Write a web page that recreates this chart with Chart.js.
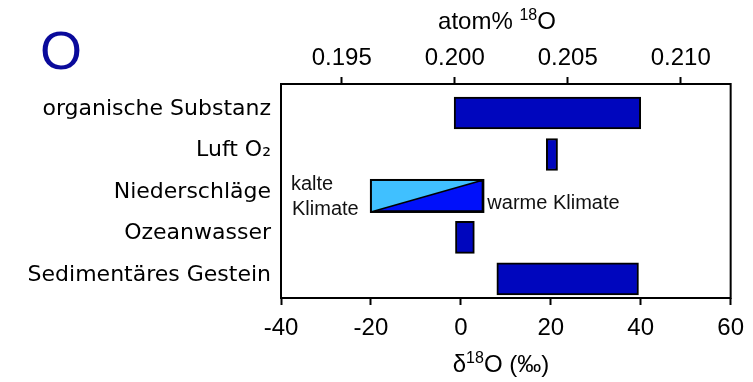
<!DOCTYPE html>
<html>
<head>
<meta charset="utf-8">
<script src="https://cdn.jsdelivr.net/npm/chart.js@4/dist/chart.umd.min.js"></script>
<style>
  html, body { margin: 0; padding: 0; background: #fff; }
  #isoChart { display: block; }
</style>
</head>
<body>
<canvas id="isoChart" width="753" height="382"></canvas>
<script>
// δ18O ranges (‰ VSMOW) of oxygen reservoirs
const categories = ['organische Substanz', 'Luft O\u2082', 'Niederschläge', 'Ozeanwasser', 'Sedimentäres Gestein'];
const rangeLow = [-1.5, 19, -20, -1.2, 8];
const rangeHigh = [40, 21.5, 5, 3, 39.5];

// bottom δ axis ticks and top atom% axis ticks
const deltaTicks = [-40, -20, 0, 20, 40, 60];
const atomTicks = [0.195, 0.200, 0.205, 0.210];
// atom% 18O at the two ends of the δ axis
const atomRange = [0.19231, 0.21221];

const precipIndex = categories.indexOf('Niederschläge');
const barBlue = '#0006BE';
const warmBlue = '#0010FA';
const coldBlue = '#40C0FF';

const sans = 'Liberation Sans, Arial, sans-serif';
const tickFont = { family: sans, size: 24 };
const labelFont = { family: 'DejaVu Sans, Verdana, sans-serif', size: 22 };

// text with a raised "18" in the middle, centred on cx
function isoText(ctx, cx, baseline, before, after, size) {
  const sup = '18';
  ctx.font = size + 'px ' + sans;
  const w1 = ctx.measureText(before).width;
  const w3 = ctx.measureText(after).width;
  ctx.font = Math.round(size * 0.65) + 'px ' + sans;
  const w2 = ctx.measureText(sup).width;
  let x = cx - (w1 + w2 + w3) / 2;
  ctx.textAlign = 'left';
  ctx.font = size + 'px ' + sans;
  ctx.fillText(before, x, baseline);
  x += w1;
  ctx.font = Math.round(size * 0.65) + 'px ' + sans;
  ctx.fillText(sup, x, baseline - size * 0.38);
  x += w2;
  ctx.font = size + 'px ' + sans;
  ctx.fillText(after, x, baseline);
}

// frame, axis titles, big element symbol and the cold/warm split of the precipitation bar
const decorations = {
  id: 'decorations',
  afterDatasetsDraw(chart) {
    const { ctx, chartArea } = chart;
    const bar = chart.getDatasetMeta(0).data[precipIndex];
    const p = bar.getProps(['x', 'y', 'base', 'height'], true);
    const left = Math.min(p.x, p.base), right = Math.max(p.x, p.base);
    const top = p.y - p.height / 2, bottom = p.y + p.height / 2;

    ctx.save();
    ctx.fillStyle = coldBlue;
    ctx.beginPath();
    ctx.moveTo(left, top);
    ctx.lineTo(right, top);
    ctx.lineTo(left, bottom);
    ctx.closePath();
    ctx.fill();
    ctx.strokeStyle = '#000';
    ctx.lineWidth = 1.5;
    ctx.beginPath();
    ctx.moveTo(left, bottom);
    ctx.lineTo(right, top);
    ctx.stroke();
    ctx.lineWidth = 2;
    ctx.strokeRect(left, top, right - left, bottom - top);

    ctx.fillStyle = '#111';
    ctx.font = '20px ' + sans;
    ctx.textAlign = 'left';
    ctx.textBaseline = 'alphabetic';
    ctx.fillText('kalte', chartArea.left + 10, top + 10);
    ctx.fillText('Klimate', chartArea.left + 11, bottom + 3);
    ctx.fillText('warme Klimate', right + 4, bottom - 3);

    ctx.lineWidth = 2;
    ctx.strokeRect(chartArea.left, chartArea.top, chartArea.right - chartArea.left, chartArea.bottom - chartArea.top);

    ctx.fillStyle = '#000';
    isoText(ctx, 497, 29, 'atom% ', 'O', 24);
    isoText(ctx, 501, 372, '\u03b4', 'O (\u2030)', 24);

    ctx.fillStyle = '#0A0A9B';
    ctx.font = '54px ' + sans;
    ctx.textAlign = 'center';
    ctx.fillText('O', 61, 69);
    ctx.restore();
  }
};

new Chart(document.getElementById('isoChart'), {
  type: 'bar',
  data: {
    labels: categories,
    datasets: [{
      data: rangeLow.map((lo, i) => ({ y: i, x: [lo, rangeHigh[i]] })),
      backgroundColor: categories.map((c, i) => i === precipIndex ? warmBlue : barBlue),
      borderColor: '#000',
      borderWidth: 2,
      borderSkipped: false,
      barThickness: 32,
      xAxisID: 'x',
      yAxisID: 'y'
    }]
  },
  options: {
    indexAxis: 'y',
    responsive: false,
    animation: false,
    layout: { padding: { left: 0, right: 20, top: 0, bottom: 0 } },
    plugins: {
      legend: { display: false },
      tooltip: { enabled: false }
    },
    scales: {
      x: {
        type: 'linear',
        position: 'bottom',
        min: deltaTicks[0],
        max: deltaTicks[deltaTicks.length - 1],
        afterBuildTicks: (scale) => { scale.ticks = deltaTicks.map(v => ({ value: v })); },
        afterFit: (scale) => { scale.height = 84; },
        grid: { drawOnChartArea: false, drawTicks: true, tickLength: 7, tickWidth: 2, tickColor: '#000' },
        border: { display: false },
        ticks: { color: '#000', font: tickFont, padding: 9, maxRotation: 0 }
      },
      x2: {
        type: 'linear',
        position: 'top',
        min: atomRange[0],
        max: atomRange[1],
        afterBuildTicks: (scale) => { scale.ticks = atomTicks.map(v => ({ value: v })); },
        afterFit: (scale) => { scale.height = 84; },
        grid: { drawOnChartArea: false, drawTicks: true, tickLength: 7, tickWidth: 2, tickColor: '#000' },
        border: { display: false },
        ticks: { color: '#000', font: tickFont, padding: 4, maxRotation: 0, callback: (v) => v.toFixed(3) }
      },
      y: {
        type: 'linear',
        position: 'left',
        reverse: true,
        offset: false,
        min: -0.7,
        max: 4.46,
        afterBuildTicks: (scale) => { scale.ticks = categories.map((c, i) => ({ value: i })); },
        afterFit: (scale) => { scale.width = 281; },
        grid: { display: false, drawTicks: false, offset: false },
        border: { display: false },
        ticks: { color: '#000', font: labelFont, padding: 10, labelOffset: -4, autoSkip: false,
                 callback: (v) => categories[v] }
      }
    }
  },
  plugins: [decorations]
});
</script>
</body>
</html>
